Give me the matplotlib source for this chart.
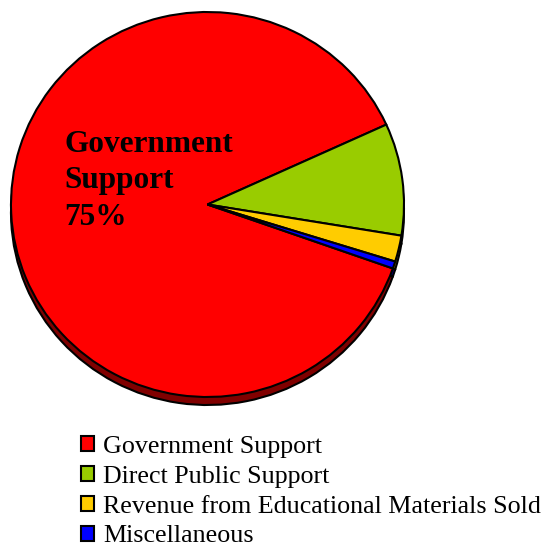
import matplotlib
matplotlib.use("Agg")
import matplotlib.pyplot as plt

# Data
categories = [
    "Government Support",
    "Direct Public Support",
    "Revenue from Educational Materials Sold",
    "Miscellaneous",
]
shares = [87.8, 9.4, 2.2, 0.6]
colors = ["#FF0000", "#99CC00", "#FFCC00", "#0000FF"]
shadow_colors = ["#800000", "#4C6600", "#806600", "#000080"]
big_label = "Government\nSupport\n75%"

W, H = 544, 550
cx, cy = 207.5, 204.5      # pie centre in pixels (from top-left)
rx, ry = 196.5, 192.5      # slight tilt
depth = 8                  # shadow thickness in pixels

plt.rcParams["font.family"] = ["Liberation Serif", "DejaVu Serif"]

fig = plt.figure(figsize=(W / 100, H / 100), dpi=100)
ax = fig.add_axes([0, 0, 1, 1])

# shadow (3d edge) drawn first, shifted down
ax.pie(shares, colors=shadow_colors, startangle=-19.4, counterclock=False,
       center=(0, -depth / ry), radius=1,
       wedgeprops=dict(edgecolor="black", linewidth=1.5))
wedges, _ = ax.pie(shares, colors=colors, startangle=-19.4, counterclock=False,
                   center=(0, 0), radius=1,
                   wedgeprops=dict(edgecolor="black", linewidth=1.5))

ax.set_aspect("auto")
ax.set_xlim(-cx / rx, (W - cx) / rx)
ax.set_ylim(-(H - cy) / ry, cy / ry)
ax.axis("off")

fig.text(64 / W, 1 - 130 / H, big_label, fontsize=22.5, fontweight="bold",
         va="top", ha="left", linespacing=1.33)

fig.legend(wedges, categories, loc="upper left",
           bbox_to_anchor=(81 / W, 1 - 436 / H), frameon=False,
           fontsize=18.7, handlelength=0.5, handleheight=0.5,
           handletextpad=0.36, labelspacing=0.3, borderpad=0,
           borderaxespad=0)

fig.savefig("out.png", dpi=100)
